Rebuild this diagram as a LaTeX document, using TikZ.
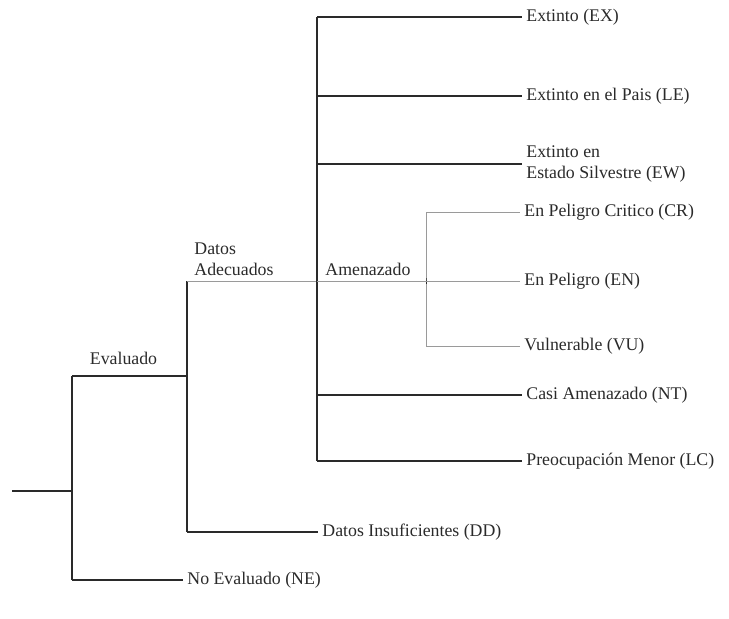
\documentclass[tikz,border=0pt]{standalone}
\usepackage{fontspec}
\setmainfont{Liberation Serif}
\definecolor{inkgray}{HTML}{2A2A2A}
\definecolor{thingray}{HTML}{9A9A9A}
\tikzset{
  branch/.style={line width=0.8pt, inkgray},
  thinbranch/.style={line width=0.5pt, thingray},
  leaf/.style={anchor=west, inner sep=2pt, text=inkgray, align=left},
  tag/.style={inner sep=1.5pt, text=inkgray, align=left}
}
\begin{document}
\begin{tikzpicture}[x=0.5pt, y=-0.5pt, font=\fontsize{8.9}{10.6}\selectfont]
    \useasboundingbox (0,0) rectangle (729,618);
    % root and first split
    \coordinate (root) at (12,491);
    \coordinate (split) at (72,491);
    \coordinate (evA) at (72,376);
    \coordinate (evB) at (187,376);
    \coordinate (neA) at (72,580);
    \draw[branch] (root) -- (split);
    \draw[branch] (evA) -- (neA);
    \draw[branch] (evA) -- node[tag, above=4pt, xshift=-3pt] (evlab) {Evaluado} (evB);
    \node[leaf] (ne) at (183,580) {No Evaluado (NE)};
    \draw[branch] (neA) -- (ne.west);
    % evaluated: adequate / deficient data
    \coordinate (daA) at (187,281);
    \coordinate (ddA) at (187,532);
    \coordinate (daB) at (317,281);
    \draw[branch] (daA) -- (ddA);
    \draw[thinbranch] (daA) -- (daB);
    \node[tag, anchor=south west] (dalab) at (191,279) {Datos\\Adecuados};
    \node[leaf] (dd) at (318,532) {Datos Insuficientes (DD)};
    \draw[branch] (ddA) -- (dd.west);
    % adequate data categories
    \coordinate (top) at (317,17);
    \coordinate (bot) at (317,461);
    \draw[branch] (top) -- (bot);
    \foreach \y/\nm/\lab in {17/ex/{Extinto (EX)}, 96/le/{Extinto en el Pais (LE)},
        164/ew/{Extinto en\\Estado Silvestre (EW)}, 395/nt/{Casi Amenazado (NT)},
        461/lc/{Preocupación Menor (LC)}} {
        \coordinate (j\nm) at (317,\y);
        \node[leaf] (\nm) at (522,\y) {\lab};
        \draw[branch] (j\nm) -- (\nm.west);
    }
    % threatened
    \coordinate (amB) at (426,281);
    \coordinate (amT) at (426,212);
    \coordinate (amD) at (426,346);
    \draw[thinbranch] (daB) -- (amB);
    \node[tag, anchor=south west] (amlab) at (322,279) {Amenazado};
    \draw[thinbranch] (amT) -- (amD);
    \draw[branch, line width=0.5pt] (amB) -- ++(0,-3) -- ++(0,6);
    \foreach \y/\nm/\lab in {212/cr/{En Peligro Critico (CR)}, 281/en/{En Peligro (EN)},
        346/vu/{Vulnerable (VU)}} {
        \coordinate (k\nm) at (426,\y);
        \node[leaf] (\nm) at (520,\y) {\lab};
        \draw[thinbranch] (k\nm) -- (\nm.west);
    }
\end{tikzpicture}
\end{document}
